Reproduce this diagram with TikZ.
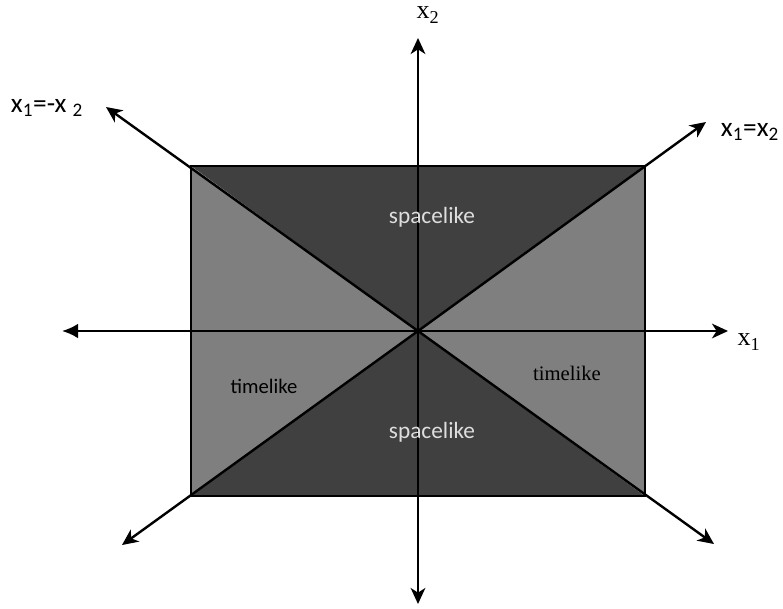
\documentclass[tikz,border=0pt]{standalone}
\usepackage{fontspec}
\setmainfont{Liberation Serif}
\newfontfamily\conefont{Carlito}
\usetikzlibrary{arrows.meta}
\definecolor{darkcone}{RGB}{64,64,64}
\definecolor{lightcone}{RGB}{127,127,127}
\definecolor{conetext}{RGB}{222,222,222}

\begin{document}
\begin{tikzpicture}[x=0.75pt,y=-0.75pt,
  axis/.style={line width=1.8pt,black,-{Stealth[length=12pt,width=11pt,inset=3.5pt]}},
  lbl/.style={inner sep=0pt}]
  \useasboundingbox (0,0) rectangle (783,608);
  %The corners of the box and the origin:
  \coordinate (O) at (418,331);
  \coordinate (TL) at (191,166);
  \coordinate (TR) at (645,166);
  \coordinate (BL) at (191,496);
  \coordinate (BR) at (645,496);
  %The free ends of the axes:
  \coordinate (tipN) at (418,38);
  \coordinate (tipS) at (418,604);
  \coordinate (tipW) at (62,331);
  \coordinate (tipE) at (728,331);
  \coordinate (tipNW) at (106,107);
  \coordinate (tipNE) at (706,122);
  \coordinate (tipSW) at (122,545);
  \coordinate (tipSE) at (714,544);

  %The four cones:
  \fill[darkcone] (TL) -- (TR) -- (O) -- cycle;
  \fill[darkcone] (BL) -- (BR) -- (O) -- cycle;
  \fill[lightcone] (TL) -- (BL) -- (O) -- cycle;
  \fill[lightcone] (TR) -- (BR) -- (O) -- cycle;
  \draw[line width=1.4pt] (TL) rectangle (BR);

  %The axes and the two light lines:
  \draw[axis] (O) -- (tipN);
  \draw[axis] (O) -- (tipS);
  \draw[axis] (O) -- (tipE);
  \draw[line width=1.8pt,-{Latex[length=12pt,width=11pt]}] (O) -- (tipW);
  \foreach \t in {tipNW,tipNE,tipSW,tipSE}{
    \draw[axis] (O) -- (\t);
  }

  %The labels:
  \node[lbl,font=\fontsize{19.5}{22}\selectfont] (xtwo) at (428,15) {x\textsubscript{2}};
  \node[lbl,font=\fontsize{19.5}{22}\selectfont] (xone) at (749,342) {x\textsubscript{1}};
  \node[lbl,font=\conefont\fontsize{20.5}{24}\selectfont] (anti) at (47,108) {x\textsubscript{1}=-x \textsubscript{2}};
  \node[lbl,font=\conefont\fontsize{20.5}{24}\selectfont] (diag) at (750,132) {x\textsubscript{1}=x\textsubscript{2}};
  \node[lbl,conetext,font=\conefont\fontsize{17.5}{21}\selectfont] (spaceN) at (432,217) {spacelike};
  \node[lbl,conetext,font=\conefont\fontsize{17.5}{21}\selectfont] (spaceS) at (432,432) {spacelike};
  \node[lbl,font=\conefont\fontsize{15.5}{19}\selectfont] (timeW) at (264,386) {timelike};
  \node[lbl,font=\fontsize{15.5}{19}\selectfont] (timeE) at (567,373) {timelike};
\end{tikzpicture}
\end{document}
